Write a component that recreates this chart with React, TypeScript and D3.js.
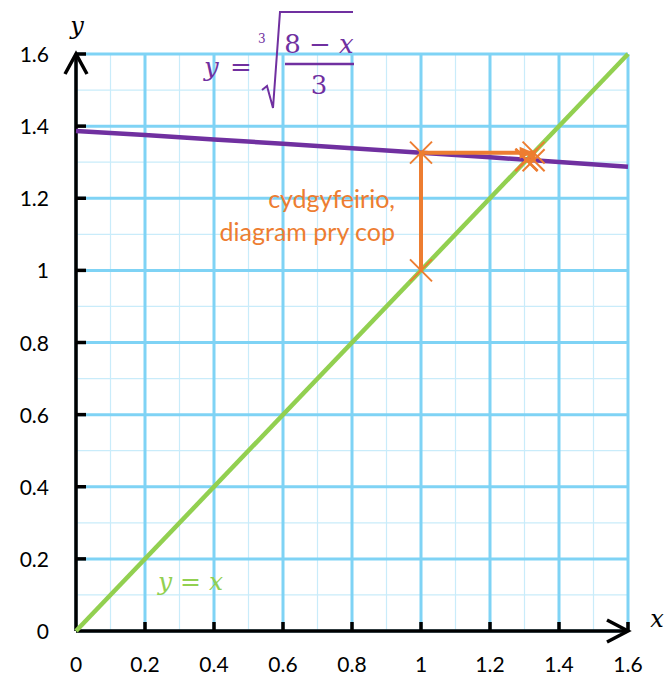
import React from 'react';
import * as d3 from 'd3';

// grid / tick values
const majorTicks = [0, 0.2, 0.4, 0.6, 0.8, 1, 1.2, 1.4, 1.6];
const minorTicks = [0.1, 0.3, 0.5, 0.7, 0.9, 1.1, 1.3, 1.5];
const tickLabels = ['0', '0.2', '0.4', '0.6', '0.8', '1', '1.2', '1.4', '1.6'];

// y = cbrt((8 - x) / 3), sampled
const curveX = [0, 0.2, 0.4, 0.6, 0.8, 1.0, 1.2, 1.4, 1.6];
const curveY = [1.3867, 1.3751, 1.3632, 1.3511, 1.3389, 1.3264, 1.3136, 1.3006, 1.2873];

// y = x
const lineX = [0, 1.6];
const lineY = [0, 1.6];

// cobweb iterates
const webX = [1, 1, 1.3264, 1.3264, 1.3054, 1.3054, 1.3068];
const webY = [1, 1.3264, 1.3264, 1.3054, 1.3054, 1.3068, 1.3068];

const W = 669;
const H = 679;
const margin = { left: 76, right: 41, top: 54, bottom: 48 };

const GRID_MAJOR = '#7fd3f5';
const GRID_MINOR = '#c9ecfa';
const PURPLE = '#7030a0';
const GREEN = '#92d050';
const ORANGE = '#ed7d31';
const MATH = '"DejaVu Serif", "Liberation Serif", serif';
const SANS = 'Lato, "Open Sans", sans-serif';

export default function App() {
  const x = d3.scaleLinear().domain([0, 1.6]).range([margin.left, W - margin.right]);
  const y = d3.scaleLinear().domain([0, 1.6]).range([H - margin.bottom, margin.top]);
  const [x0, x1] = x.range();
  const [y0, y1] = y.range();

  const line = d3.line<[number, number]>().x(d => x(d[0])).y(d => y(d[1]));
  const curvePts = curveX.map((v, i) => [v, curveY[i]] as [number, number]);
  const linePts = lineX.map((v, i) => [v, lineY[i]] as [number, number]);
  const webPts = webX.map((v, i) => [v, webY[i]] as [number, number]);

  const cross = (px: number, py: number, k: number) => {
    const s = 11;
    return (
      <g key={'c' + k} stroke={ORANGE} strokeWidth={2}>
        <line x1={px - s} y1={py - s} x2={px + s} y2={py + s} />
        <line x1={px - s} y1={py + s} x2={px + s} y2={py - s} />
      </g>
    );
  };

  // arrow on first horizontal step
  const ax = x(webX[2]);
  const ay = y(webY[2]);

  return (
    <svg width={W} height={H} style={{ position: 'absolute', left: 0, top: 0, display: 'block' }}>
      <rect width={W} height={H} fill="#fff" />
      {/* minor grid */}
      {minorTicks.map(t => (
        <g key={'m' + t} stroke={GRID_MINOR} strokeWidth={1.2}>
          <line x1={x(t)} x2={x(t)} y1={y0} y2={y1} />
          <line x1={x0} x2={x1} y1={y(t)} y2={y(t)} />
        </g>
      ))}
      {/* major grid */}
      {majorTicks.map(t => (
        <g key={'M' + t} stroke={GRID_MAJOR} strokeWidth={3}>
          <line x1={x(t)} x2={x(t)} y1={y0} y2={y1} />
          <line x1={x0} x2={x1} y1={y(t)} y2={y(t)} />
        </g>
      ))}

      {/* axes */}
      <g stroke="#000" strokeWidth={3.5} fill="none" strokeLinecap="butt">
        <line x1={x0} y1={y0} x2={x1} y2={y0} />
        <line x1={x0} y1={y0} x2={x0} y2={y1} />
        <polyline points={`${x1 - 21},${y0 - 11} ${x1},${y0} ${x1 - 21},${y0 + 11}`} strokeLinejoin="miter" />
        <polyline points={`${x0 - 11},${y1 + 20} ${x0},${y1} ${x0 + 11},${y1 + 20}`} strokeLinejoin="miter" />
        {majorTicks.slice(1).map(t => (
          <g key={'t' + t}>
            <line x1={x(t)} x2={x(t)} y1={y0} y2={y0 - 9} />
            <line x1={x0} x2={x0 + 10} y1={y(t)} y2={y(t)} />
          </g>
        ))}
      </g>

      {/* tick labels */}
      <g fontFamily={SANS} fontSize={21} fill="#000">
        {majorTicks.map((t, i) => (
          <text key={'xl' + t} x={x(t)} y={y0 + 41} textAnchor="middle">{tickLabels[i]}</text>
        ))}
        {majorTicks.map((t, i) => (
          <text key={'yl' + t} x={49} y={y(t) + 8} textAnchor="end">{tickLabels[i]}</text>
        ))}
      </g>

      {/* axis names */}
      <text x={657} y={627} fontFamily={MATH} fontStyle="italic" fontSize={24} textAnchor="middle">x</text>
      <text x={77} y={34} fontFamily={MATH} fontStyle="italic" fontSize={24} textAnchor="middle">y</text>

      {/* y = x */}
      <path d={line(linePts) || ''} stroke={GREEN} strokeWidth={4.5} fill="none" />
      <text x={158} y={590} fontFamily={MATH} fontStyle="italic" fontSize={25} fill={GREEN}>
        y <tspan fontStyle="normal">=</tspan> x
      </text>

      {/* y = cbrt((8-x)/3) */}
      <path d={line(curvePts) || ''} stroke={PURPLE} strokeWidth={4.5} fill="none" />
      <g fill={PURPLE} fontFamily={MATH}>
        <text x={204} y={76} fontSize={26} fontStyle="italic">y</text>
        <text x={230} y={76} fontSize={26}>=</text>
        <text x={258} y={43} fontSize={12}>3</text>
        <polyline points="262,90 267,86 273,108 280,12 353,12" fill="none" stroke={PURPLE} strokeWidth={2} />
        <line x1={285} x2={354} y1={64} y2={64} stroke={PURPLE} strokeWidth={2.5} />
        <text x={319} y={53} fontSize={26} textAnchor="middle">8 − <tspan fontStyle="italic">x</tspan></text>
        <text x={319} y={94} fontSize={26} textAnchor="middle">3</text>
      </g>

      {/* cobweb */}
      <path d={line(webPts) || ''} stroke={ORANGE} strokeWidth={4} fill="none" strokeLinejoin="miter" />
      <polygon points={`${ax},${ay} ${ax - 14},${ay - 6} ${ax - 14},${ay + 6}`} fill={ORANGE} />
      {webPts.map((p, i) => cross(x(p[0]), y(p[1]), i))}
      <g fontFamily={SANS} fontSize={25} fill={ORANGE} textAnchor="end">
        <text x={395} y={208}>cydgyfeirio,</text>
        <text x={395} y={241}>diagram pry cop</text>
      </g>
    </svg>
  );
}
